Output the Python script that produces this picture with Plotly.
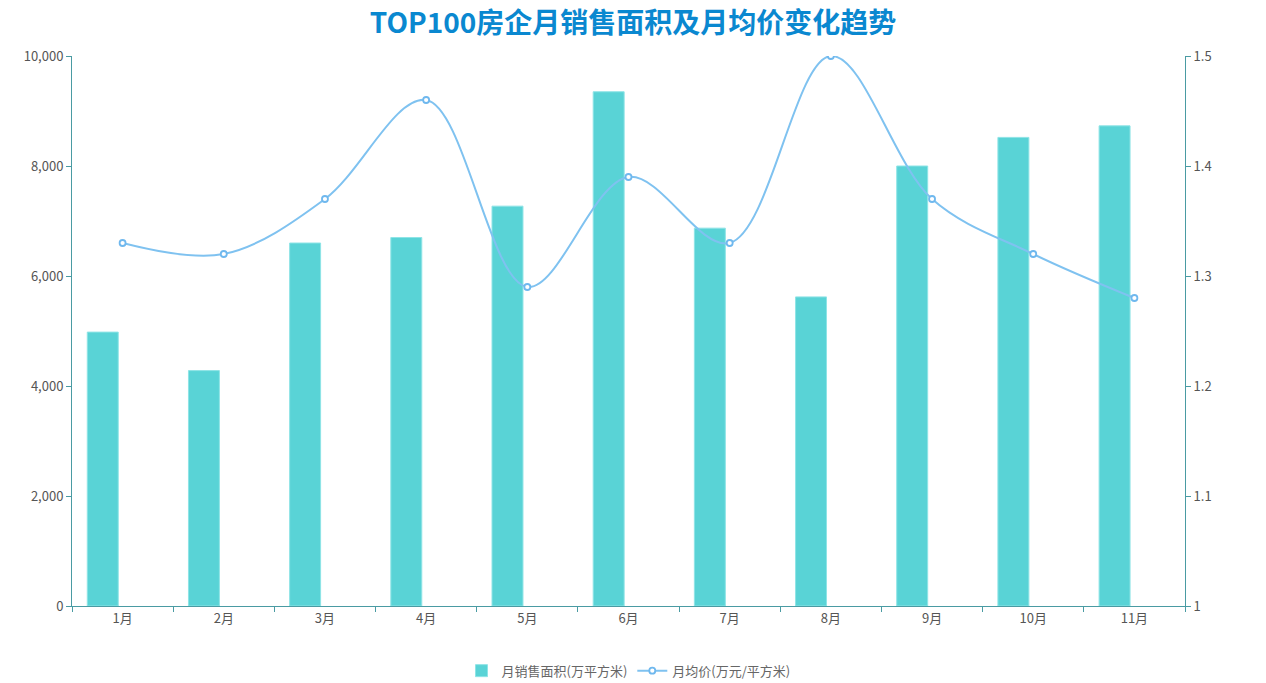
import plotly.graph_objects as go

months = ["1月", "2月", "3月", "4月", "5月", "6月", "7月", "8月", "9月", "10月", "11月"]
area = [4980, 4280, 6600, 6700, 7270, 9350, 6870, 5620, 8000, 8520, 8730]
price = [1.33, 1.32, 1.37, 1.46, 1.29, 1.39, 1.33, 1.50, 1.37, 1.32, 1.28]

FONT = "Noto Sans CJK SC, Microsoft YaHei, sans-serif"
AXIS_COLOR = "#4a9ba3"

fig = go.Figure()
fig.add_trace(go.Bar(
    x=months, y=area, name="月销售面积(万平方米)",
    marker=dict(color="#59d3d6", line=dict(color="#8ee4e6", width=1)),
    yaxis="y", offset=-0.349, width=0.306,
))
fig.add_trace(go.Scatter(
    x=months, y=price, name="月均价(万元/平方米)", yaxis="y2",
    mode="lines+markers",
    line=dict(color="#7fc2f0", width=2, shape="spline", smoothing=1.0),
    marker=dict(symbol="circle", size=6, color="#ffffff", line=dict(color="#6fb8ee", width=1.8)),
))

fig.update_layout(
    width=1266, height=683,
    paper_bgcolor="white", plot_bgcolor="white",
    margin=dict(l=72, r=81, t=56, b=77, autoexpand=False),
    title=dict(text="<b>TOP100房企月销售面积及月均价变化趋势</b>", x=0.5, xanchor="center",
               y=0.966, yanchor="middle",
               font=dict(family=FONT, size=28, color="#0a88d0")),
    font=dict(family=FONT, size=13, color="#666666"),
    showlegend=True,
    legend=dict(orientation="h", x=0.5, xanchor="center", yref="container", y=0.018, yanchor="middle",
                font=dict(size=13, color="#666666")),
    xaxis=dict(
        type="category", range=[-0.5, 10.5], tickson="boundaries", ticks="outside", ticklen=5,
        tickcolor=AXIS_COLOR, showline=True, linecolor=AXIS_COLOR, linewidth=1,
        showgrid=False, zeroline=False, tickfont=dict(size=13, color="#555555"),
    ),
    yaxis=dict(
        range=[0, 10000], dtick=2000, tickformat=",", ticks="outside", ticklen=5,
        tickcolor=AXIS_COLOR, showline=True, linecolor=AXIS_COLOR, linewidth=1,
        showgrid=False, zeroline=False, tickfont=dict(size=13, color="#555555"),
    ),
    yaxis2=dict(
        range=[1, 1.5], dtick=0.1, tick0=1, overlaying="y", side="right",
        ticks="outside", ticklen=5, tickcolor=AXIS_COLOR, showline=True,
        linecolor=AXIS_COLOR, linewidth=1, showgrid=False, zeroline=False,
        tickfont=dict(size=13, color="#555555"),
    ),
)

fig.write_html("out.html", config={"displayModeBar": False},
               post_script="document.body.style.margin='0';document.body.style.overflow='hidden';")
